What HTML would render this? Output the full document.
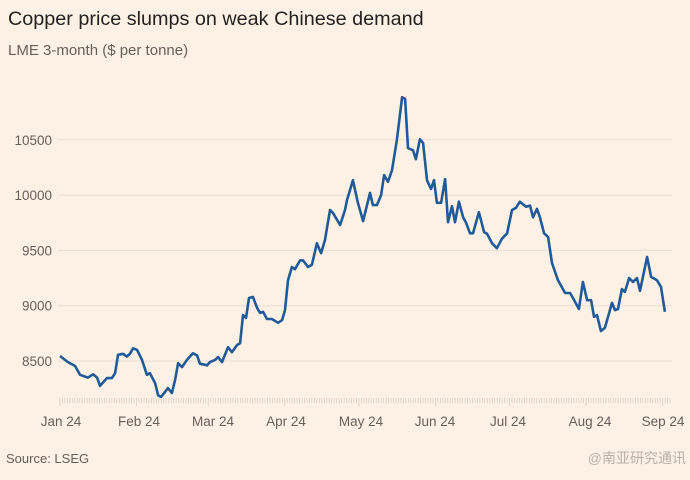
<!DOCTYPE html>
<html><head><meta charset="utf-8">
<style>
html,body{margin:0;padding:0;background:#fdf1e6;}
body{width:690px;height:475px;overflow:hidden;font-family:"Liberation Sans","Noto Sans CJK SC",sans-serif;}
svg text{font-family:"Liberation Sans","Noto Sans CJK SC",sans-serif;}
</style></head><body>
<svg id="chart" width="690" height="475" viewBox="0 0 690 475">
<rect width="690" height="475" fill="#fdf1e6"/>
<text x="8" y="25" font-size="19.8" fill="#222">Copper price slumps on weak Chinese demand</text>
<text x="8" y="55" font-size="15" fill="#66605c">LME 3-month ($ per tonne)</text>
<text x="6" y="463" font-size="13" fill="#66605c">Source: LSEG</text>
<text x="686" y="463" font-size="14" fill="#b8b0aa" text-anchor="end">@南亚研究通讯</text>
<g id="grid"></g><g id="yaxis"></g><g id="xaxis"></g><g id="series"></g>
</svg>
<script>
const yTicks=[8500,9000,9500,10000,10500];
const monthLabels=["Jan 24","Feb 24","Mar 24","Apr 24","May 24","Jun 24","Jul 24","Aug 24","Sep 24"];
const monthDays=[0,31,60,91,121,152,182,213,244];
const days=[0,3.2,6.1,8.1,11.3,13.4,15,16.2,19,21,22.3,23.5,25.5,27.1,28.3,29.6,31.2,33.2,35.2,36.4,38.5,39.7,40.9,42.5,43.7,45.3,46.6,47.8,49.4,51.4,53.8,55.5,56.7,57.9,59.5,60.7,62.8,64,65.6,68,69.6,71.7,72.9,74.1,75.3,76.5,78.1,79.8,81,82.2,83.8,85.8,88.3,89.9,91.1,92.3,93.9,95.1,97.2,98.4,100.4,102,104,105.7,107.3,109.3,110.5,113.4,115.4,116.2,117.4,118.6,120.6,122.7,125.5,126.7,128.3,130,131.2,132.8,134.4,136.4,138.5,139.7,140.9,142.9,144.1,145.7,147,148.6,150.2,151.4,152.6,154.3,155.9,157.1,158.7,159.9,161.5,163.2,164.4,166,167.2,169.6,171.7,172.9,174.9,176.9,178.9,181,183,184.6,186.2,188.7,190.3,191.5,193.1,194.3,196,197.6,199.2,201.6,204.5,206.5,207.7,210.1,211.7,213.4,215,216.2,217.4,219,220.6,223.5,224.7,225.9,227.5,228.7,230.4,232,233.6,234.8,237.7,239.3,241.7,243.3,244.9];
const prices=[8545,8490,8455,8375,8350,8380,8350,8275,8345,8345,8390,8555,8565,8540,8565,8615,8600,8510,8375,8390,8300,8190,8175,8220,8255,8210,8330,8480,8445,8510,8570,8550,8475,8470,8460,8490,8510,8535,8490,8625,8580,8645,8660,8915,8890,9070,9080,8980,8935,8945,8880,8880,8845,8870,8960,9230,9350,9330,9410,9410,9350,9370,9565,9475,9595,9865,9840,9730,9865,9955,10045,10135,9930,9765,10020,9910,9910,10000,10180,10120,10225,10500,10885,10870,10425,10405,10325,10505,10470,10135,10055,10135,9930,9930,10145,9755,9900,9755,9940,9800,9750,9655,9655,9845,9665,9650,9565,9520,9605,9655,9865,9885,9940,9895,9905,9800,9875,9800,9655,9620,9385,9230,9115,9115,9070,8970,9215,9050,9050,8900,8915,8770,8800,9025,8960,8970,9150,9125,9250,9215,9250,9135,9440,9260,9230,9170,8945];
const ns="http://www.w3.org/2000/svg";
const X0=60,XPD=2.47,Y0=361,YPV=55.3/500;
function xs(d){return X0+d*XPD;}
function ys(v){return Y0-(v-8500)*YPV;}
const labelX=[61,139,213,286,361,435,508,590,663];
const grid=document.getElementById('grid'),yax=document.getElementById('yaxis'),xax=document.getElementById('xaxis'),ser=document.getElementById('series');
yTicks.forEach(v=>{
 const l=document.createElementNS(ns,'line');
 l.setAttribute('x1',58);l.setAttribute('x2',672);l.setAttribute('y1',ys(v));l.setAttribute('y2',ys(v));
 l.setAttribute('stroke','#eadfd5');l.setAttribute('stroke-width','1');
 
 
 grid.appendChild(l);
 const t=document.createElementNS(ns,'text');
 t.setAttribute('x',52);t.setAttribute('y',ys(v)+5);t.setAttribute('text-anchor','end');
 t.setAttribute('font-size','13.5');t.setAttribute('fill','#66605c');t.textContent=v;
 
 
 yax.appendChild(t);
});
let tp='';
for(let d=0;d<=247;d++){const x=xs(d);tp+=`M${x.toFixed(1)} 398V${monthDays.includes(d)?406:403}`;}
const tk=document.createElementNS(ns,'path');
tk.setAttribute('d',tp);tk.setAttribute('stroke','#d9cfc6');tk.setAttribute('stroke-width','0.8');


xax.appendChild(tk);
monthLabels.forEach((m,i)=>{
 const t=document.createElementNS(ns,'text');
 t.setAttribute('x',labelX[i]);t.setAttribute('y',426);t.setAttribute('text-anchor','middle');
 t.setAttribute('font-size','13.5');t.setAttribute('fill','#66605c');t.textContent=m;
 
 
 xax.appendChild(t);
});
const p=document.createElementNS(ns,'path');
p.setAttribute('d',days.map((d,i)=>(i?'L':'M')+xs(d).toFixed(1)+' '+ys(prices[i]).toFixed(1)).join(''));
p.setAttribute('fill','none');p.setAttribute('stroke','#1f5a99');p.setAttribute('stroke-width','2.6');p.setAttribute('stroke-linejoin','round');


ser.appendChild(p);
</script>
</body></html>
